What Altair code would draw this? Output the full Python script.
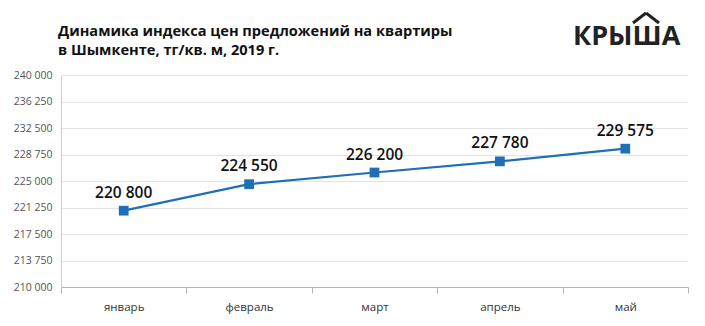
import altair as alt
import pandas as pd

months = ["январь", "февраль", "март", "апрель", "май"]
values = [220800, 224550, 226200, 227780, 229575]
y_ticks = [210000, 213750, 217500, 221250, 225000, 228750, 232500, 236250, 240000]
title_lines = ["Динамика индекса цен предложений на квартиры", "в Шымкенте, тг/кв. м, 2019 г."]
logo_text = "КРЫША"

df = pd.DataFrame({"month": months, "value": values})
one = pd.DataFrame({"k": [0]})

x_enc = alt.X("month:N", sort=months, title=None,
              scale=alt.Scale(type="band", paddingInner=0, paddingOuter=0),
              axis=alt.Axis(tickBand="extent", domainColor="#b5b5b5", tickColor="#b5b5b5",
                            tickSize=6, labelAngle=0, labelPadding=8, labelFont="Open Sans",
                            labelFontSize=11.5, labelColor="#333", grid=False))
y_enc = alt.Y("value:Q", title=None,
              scale=alt.Scale(domain=[210000, 240000], nice=False, zero=False),
              axis=alt.Axis(values=y_ticks, grid=True, gridColor="#e3e3e3", domainColor="#cfcfcf",
                            ticks=False, labelPadding=9, labelFont="Open Sans", labelFontSize=10.5,
                            labelColor="#555",
                            labelExpr="replace(format(datum.value, ',d'), ',', ' ')"))

base = alt.Chart(df).encode(x=x_enc, y=y_enc)

line = base.mark_line(color="#1f6fb8", strokeWidth=2.2)
pts = base.mark_square(color="#1f6fb8", size=95, opacity=1)
labels = base.transform_calculate(
    lab="replace(format(datum.value, ',d'), ',', ' ')"
).mark_text(dy=-18, font="Open Sans", fontSize=15.5, fontWeight=600, color="#111").encode(text="lab:N")

title = alt.Chart(one).mark_text(text=title_lines, lineHeight=19, align="left", baseline="alphabetic",
                                 font="Open Sans", fontSize=14.6, fontWeight="bold", color="#111").encode(
    x=alt.value(-3), y=alt.value(-39))

logo = alt.Chart(one).mark_text(text=logo_text, align="left", baseline="alphabetic",
                                font="Open Sans", fontSize=27, fontWeight="bold", color="#222").encode(
    x=alt.value(512), y=alt.value(-30))
roof_l = alt.Chart(one).mark_rule(color="#222", strokeWidth=3).encode(
    x=alt.value(572), x2=alt.value(585), y=alt.value(-52), y2=alt.value(-62))
roof_r = alt.Chart(one).mark_rule(color="#222", strokeWidth=3).encode(
    x=alt.value(585), x2=alt.value(598), y=alt.value(-62), y2=alt.value(-52))

chart = alt.layer(line, pts, labels, title, logo, roof_l, roof_r).properties(
    width=627, height=212,
    autosize=alt.AutoSizeParams(type="none"),
    padding={"left": 61, "top": 75, "right": 17, "bottom": 39},
    background="white",
).configure_view(stroke=None)

chart.save("out.html", embed_options={"renderer": "svg", "actions": False})
